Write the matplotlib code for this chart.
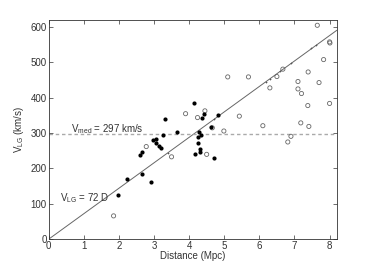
import matplotlib
matplotlib.use("Agg")
import matplotlib.pyplot as plt
import numpy as np

plt.rcParams['font.family'] = ['Liberation Sans', 'DejaVu Sans']
plt.rcParams['mathtext.default'] = 'regular'

# filled points (distance Mpc, V_LG km/s)
filled_x = [1.98, 2.23, 2.61, 2.67, 2.67, 2.91, 2.97, 3.06, 3.06, 3.14, 3.21, 3.25, 3.32,
            3.66, 4.15, 4.16, 4.24, 4.26, 4.29, 4.31, 4.31, 4.35, 4.38, 4.42, 4.62, 4.71, 4.82]
filled_y = [125, 171, 239, 247, 185, 162, 282, 284, 271, 264, 257, 294, 341,
            304, 385, 242, 272, 290, 303, 255, 247, 296, 344, 355, 316, 230, 352]

# open circles
open_x = [1.85, 2.78, 3.50, 3.90, 4.24, 4.45, 4.50, 4.66, 4.99, 5.10, 5.43, 5.69, 6.10,
          6.30, 6.50, 6.67, 6.81, 6.90, 7.10, 7.10, 7.18, 7.20, 7.39, 7.38, 7.41, 7.70,
          7.65, 7.83, 8.00, 8.01, 8.00]
open_y = [66, 262, 233, 355, 344, 363, 240, 315, 306, 459, 348, 459, 321,
          428, 460, 481, 275, 291, 446, 425, 329, 412, 473, 378, 319, 443,
          605, 508, 558, 555, 384]

# small marks lying on the relation
small_x = [3.40, 4.70, 6.20, 6.30, 6.60, 6.89, 7.47, 7.60]
small_y = [243, 340, 444, 452, 476, 498, 541, 548]

H0 = 72
V_med = 297
xlim = (0, 8.2)
ylim = (0, 620)
xticks = [0, 1, 2, 3, 4, 5, 6, 7, 8]
yticks = [0, 100, 200, 300, 400, 500, 600]

fig = plt.figure(figsize=(3.74, 2.70), dpi=100)
ax = fig.add_axes([0.130, 0.114, 0.770, 0.812])

xx = np.array(xlim)
ax.plot(xx, H0 * xx, color='#666666', lw=0.7, zorder=1)
ax.axhline(V_med, color='#aaaaaa', lw=1.0, ls=(0, (2.5, 2)), zorder=1)

ax.scatter(open_x, open_y, s=9, facecolors='none', edgecolors='#666666', linewidths=0.6, zorder=2)
ax.scatter(filled_x, filled_y, s=9, color='black', linewidths=0, zorder=3)
ax.scatter(small_x, small_y, s=3, marker='+', color='#555555', linewidths=0.5, zorder=3)

ax.set_xlim(*xlim)
ax.set_ylim(*ylim)
ax.set_xticks(xticks)
ax.set_yticks(yticks)
ax.tick_params(direction='in', top=True, right=True, labelsize=7, length=3,
               width=0.5, colors='#333333', labelcolor='#333333', pad=1.5)
for s in ax.spines.values():
    s.set_linewidth(0.6)
    s.set_color('#333333')

ax.set_xlabel('Distance (Mpc)', fontsize=7, color='#333333', labelpad=0)
ax.set_ylabel('V$_{LG}$ (km/s)', fontsize=7, color='#333333', labelpad=3)

ax.text(0.65, 302, 'V$_{med}$ = 297 km/s', fontsize=7, color='#333333')
ax.text(0.33, 108, 'V$_{LG}$ = 72 D', fontsize=7, color='#333333')

fig.savefig('out.png', dpi=100)
